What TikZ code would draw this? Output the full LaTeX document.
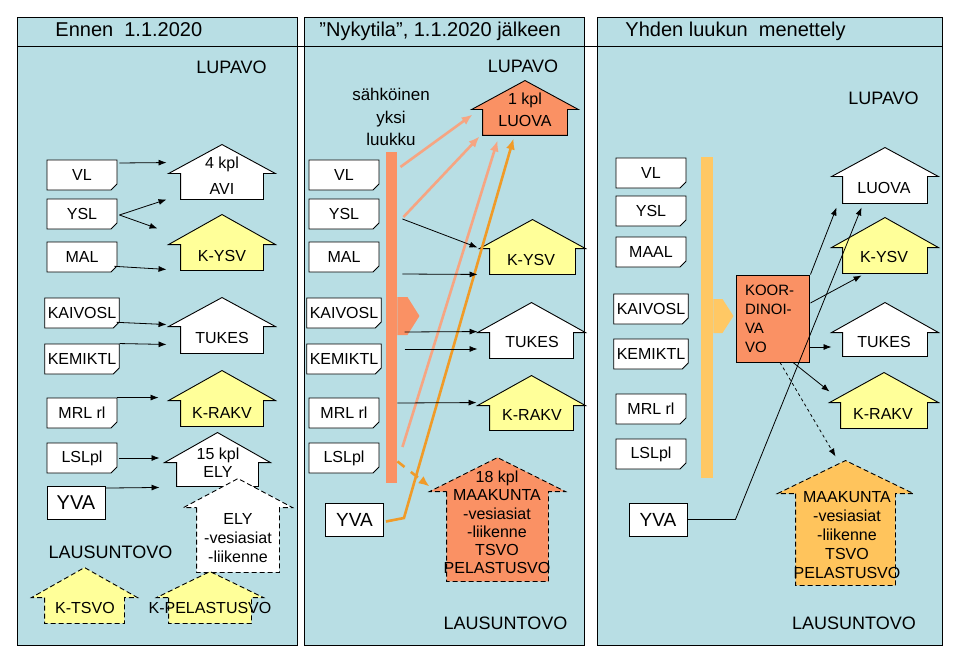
\documentclass[tikz,border=0pt]{standalone}
\usepackage{fontspec}
\setmainfont{Liberation Sans}
\usetikzlibrary{arrows.meta,shapes.misc,fit}

\definecolor{tausta}{RGB}{184,222,228}
\definecolor{keltainen}{RGB}{255,255,153}
\definecolor{lohi}{RGB}{250,145,100}
\definecolor{oranssi}{RGB}{255,196,92}
\definecolor{vaalealohi}{RGB}{246,165,130}
\definecolor{tummaoranssi}{RGB}{240,155,40}
\definecolor{palkkioranssi}{RGB}{255,200,100}

% talo: [tyyli]{nimi}{vasen raystas}{oikea alakulma}{raystaan leveys}{katon korkeus}
\newcommand{\talo}[6][fill=white]{%
        \node[talo, fit={(#3) (#4)}] (#2) {};
        \filldraw[#1] ([xshift=#5]#2.north west) -- ([xshift=#5]#2.south west)
                -- ([xshift=-#5]#2.south east) -- ([xshift=-#5]#2.north east)
                -- (#2.north east) -- ([yshift=#6]#2.north) -- (#2.north west) -- cycle;
}

\tikzset{
        paneeli/.style={draw, fill=tausta},
        dok/.style={draw, fill=white, chamfered rectangle, chamfered rectangle corners=south east,
                chamfered rectangle xsep=3pt, chamfered rectangle ysep=3pt,
                minimum width=70, minimum height=30, inner sep=0pt, font=\fontsize{16}{19}\selectfont},
        yvalaatikko/.style={draw, fill=white, minimum width=58, minimum height=33, inner sep=0pt,
                font=\fontsize{19}{23}\selectfont},
        talo/.style={inner sep=0pt},
        katko/.style={dash pattern=on 5pt off 3pt},
        teksti/.style={align=center, inner sep=0pt, font=\fontsize{16}{19}\selectfont},
        iso/.style={inner sep=0pt, font=\fontsize{18}{22}\selectfont},
        otsikko/.style={anchor=base west, inner sep=0pt, font=\fontsize{20}{24}\selectfont},
        palkki/.style={inner sep=0pt, minimum width=11},
        nuoli/.style={-{Latex[length=8pt,width=6pt]}, line width=0.8pt},
        paksu/.style={-{Latex[length=11pt,width=9pt]}, line width=2.6pt, draw=vaalealohi},
}

\begin{document}
\begin{tikzpicture}[x=1pt, y=-1pt, line width=0.9pt]
        \useasboundingbox (0,0) rectangle (960,655);
        \draw[paneeli] (17,17) rectangle (297,645);
        \draw[paneeli] (304,17) rectangle (584,645);
        \draw[paneeli] (597,17) rectangle (942,645);
        \draw (17,46) -- (942,46);

        \node[otsikko] (otsikko1) at (55,37) {Ennen\ \ 1.1.2020};
        \node[otsikko] (otsikko2) at (319,37) {”Nykytila”, 1.1.2020 jälkeen};
        \node[otsikko] (otsikko3) at (625,37) {Yhden luukun\ \ menettely};

        \node[iso] (lupavo1) at (231.5,67) {LUPAVO};
        \node[iso] (lupavo2) at (523,66) {LUPAVO};
        \node[iso] (lupavo3) at (883.5,98) {LUPAVO};
        \node[iso] (lausunto1) at (110.5,552) {LAUSUNTOVO};
        \node[iso] (lausunto2) at (505.5,623) {LAUSUNTOVO};
        \node[iso] (lausunto3) at (854,623) {LAUSUNTOVO};

        % lait
        \foreach \n/\t/\y in {vl/VL/175, ysl/YSL/214, mal/MAL/257, kaivosl/KAIVOSL/313,
                        kemiktl/KEMIKTL/359, mrl/MRL rl/413, lsl/LSLpl/458} {
                \node[dok] (\n1) at (82,\y) {\t};
                \node[dok] (\n2) at (344,\y) {\t};
        }
        \foreach \n/\t/\y in {vl/VL/173, ysl/YSL/211, mal/MAAL/252, kaivosl/KAIVOSL/309,
                        kemiktl/KEMIKTL/354, mrl/MRL rl/409, lsl/LSLpl/454} {
                \node[dok] (\n3) at (651,\y) {\t};
        }
        \node[yvalaatikko, font=\fontsize{20}{24}\selectfont] (yva1) at (76,503) {YVA};
        \node[yvalaatikko] (yva2) at (354.5,519.5) {YVA};
        \node[yvalaatikko] (yva3) at (658,519.5) {YVA};

        % ennen
        \talo{avi}{169,174}{275,199}{12}{29}
        \node[teksti] (avi-t) at (222,176) {4 kpl\\[7pt]AVI};
        \talo[fill=keltainen]{kysv1}{169,245}{275,270}{12}{30}
        \node[teksti] (kysv1-t) at (222,256) {K-YSV};
        \talo{tukes1}{169,327}{275,353}{12}{29}
        \node[teksti] (tukes1-t) at (222,338) {TUKES};
        \talo[fill=keltainen]{krakv1}{169,401}{275,426}{12}{30}
        \node[teksti] (krakv1-t) at (222,413) {K-RAKV};
        \talo{ely1}{165,463}{270,486}{12}{30}
        \node[teksti, font=\fontsize{16}{18}\selectfont] (ely1-t) at (218,463) {15 kpl\\ELY};
        \talo[fill=white,katko]{ely2}{184,508}{292,572}{13}{29}
        \node[teksti] (ely2-t) at (238,538) {ELY\\-vesiasiat\\-liikenne};
        \talo[fill=keltainen,katko]{ktsvo}{32,598}{137,623}{13}{30}
        \node[teksti] (ktsvo-t) at (85,608) {K-TSVO};
        \talo[fill=keltainen,katko]{kpel}{157,598}{263,623}{12}{26}
        \node[teksti] (kpel-t) at (210,608) {K-PELASTUSVO};

        \draw[nuoli] ([shift={(2,-12)}]vl1.east) -- ([shift={(-2,-11)}]avi.north west);
        \draw[nuoli] ([shift={(2,1)}]ysl1.east) -- ([xshift=-2]avi.south west);
        \draw[nuoli] ([shift={(2,1)}]ysl1.east) -- ([shift={(-11,-16)}]kysv1.north west);
        \draw[nuoli] ([yshift=3]mal1.south east) -- ([shift={(-2,-1)}]kysv1.south west);
        \draw[nuoli] ([yshift=3]kaivosl1.south east) -- ([shift={(-2,-2)}]tukes1.north west);
        \draw[nuoli] (kemiktl1.north east) -- ([shift={(-2,-9)}]tukes1.south west);
        \draw[nuoli] (mrl1.north east) -- ([shift={(-10,-3)}]krakv1.north west);
        \draw[nuoli] ([xshift=2]lsl1.east) -- ([shift={(-5,-16.5)}]ely1.west);
        \draw[nuoli] ([yshift=-2]yva1.north east) -- ([shift={(-5,1)}]ely1.south west);

        % nykytila
        \node[teksti, font=\fontsize{17}{22.5}\selectfont] (luukku) at (391,117) {sähköinen\\yksi\\luukku};
        \node[palkki, fill=lohi, minimum height=331] (palkki2) at (391.5,317.5) {};
        \fill[lohi] ([yshift=20.5]palkki2.east) -- ++(10,0) -- ++(12,19) -- ++(-12,19) -- ++(-10,0) -- cycle;

        \talo[fill=lohi]{luova2}{472,110}{578,135}{11}{29}
        \node[teksti] (luova2-t) at (525,110) {1 kpl\\[3pt]LUOVA};
        \talo[fill=keltainen]{kysv2}{480,249}{585,274}{10}{29}
        \node[teksti] (kysv2-t) at (531,260) {K-YSV};
        \talo{tukes2}{478,333}{585,358}{12}{30}
        \node[teksti] (tukes2-t) at (532,342) {TUKES};
        \talo[fill=keltainen]{krakv2}{478,406}{585,430}{12}{30}
        \node[teksti] (krakv2-t) at (532,415) {K-RAKV};
        \talo[fill=lohi,katko]{maak2}{430,492}{565,581}{17}{34}
        \node[teksti, font=\fontsize{16}{18.2}\selectfont] (maak2-t) at (497,522.5)
                {18 kpl\\MAAKUNTA\\-vesiasiat\\-liikenne\\TSVO\\PELASTUSVO};

        \draw[paksu] ([shift={(21,-8)}]vl2.east) -- ([shift={(1,5)}]luova2.north west);
        \draw[paksu] ([shift={(24,3)}]ysl2.east) -- ([shift={(8,1)}]luova2.south west);
        \draw[paksu] ([shift={(23,-11)}]lsl2.east) -- ([shift={(26,5)}]luova2.south west);
        \draw[paksu, draw=tummaoranssi] ([shift={(2,2)}]yva2.east) -- ++(18,-3.5)
                -- ([shift={(42,3)}]luova2.south west);
        \draw[paksu, draw=tummaoranssi, dash pattern=on 9pt off 8pt]
                ([yshift=22]palkki2.south east) -- ([yshift=5]maak2.north west);

        \draw[nuoli] ([shift={(23,5)}]ysl2.east) -- ([shift={(-2,-1)}]kysv2.north west);
        \draw[nuoli] ([shift={(23,17)}]mal2.east) -- ([xshift=-2]kysv2.south west);
        \draw[nuoli] ([shift={(23,19)}]kaivosl2.east) -- ([yshift=1]tukes2.north west);
        \draw[nuoli] ([shift={(23,-10)}]kemiktl2.east) -- ([yshift=-3.5]tukes2.west);
        \draw[nuoli] ([shift={(18,-10)}]mrl2.east) -- ([shift={(-1,-3)}]krakv2.north west);

        % yhden luukun menettely
        \node[palkki, fill=palkkioranssi, minimum width=12, minimum height=321] (palkki3) at (707,317.5) {};
        \fill[palkkioranssi] ([yshift=18.5]palkki3.east) -- ++(9,0) -- ++(11,17) -- ++(-11,17) -- ++(-9,0) -- cycle;
        \node[draw, fill=lohi, minimum height=87, text width=55, inner xsep=9, inner ysep=0pt,
                align=left, font=\fontsize{15}{19}\selectfont] (koor) at (772.5,318.5) {KOOR-\\DINOI-\\VA\\VO};

        \talo{luova3}{832,177}{938,203}{11}{29}
        \node[teksti] (luova3-t) at (884,188) {LUOVA};
        \talo[fill=keltainen]{kysv3}{832,248}{938,273}{11}{30}
        \node[teksti] (kysv3-t) at (884,257) {K-YSV};
        \talo{tukes3}{832,333}{938,356}{11}{30}
        \node[teksti] (tukes3-t) at (884,342) {TUKES};
        \talo[fill=keltainen]{krakv3}{830,403}{938,428}{11}{30}
        \node[teksti] (krakv3-t) at (883,414) {K-RAKV};
        \talo[fill=oranssi,katko]{maak3}{778,494}{913,585}{18}{33}
        \node[teksti] (maak3-t) at (847,535) {MAAKUNTA\\-vesiasiat\\-liikenne\\TSVO\\PELASTUSVO};

        \draw[nuoli] ([xshift=1]koor.north east) -- ([shift={(5,4)}]luova3.south west);
        \draw[nuoli] (yva3.east) -- ++(48,0) -- ([shift={(30,4)}]luova3.south west);
        \draw[nuoli] ([shift={(1,-15.5)}]koor.east) -- ([shift={(30,2)}]kysv3.south west);
        \draw[nuoli] ([yshift=-28.5]koor.east) -- ([yshift=-2.5]tukes3.west);
        \draw[nuoli] ([xshift=20.5]koor.south) -- ([yshift=11]krakv3.north west);
        \draw[nuoli, dashed] ([xshift=7.5]koor.south) -- ([shift={(58,-37)}]maak3.north west);
\end{tikzpicture}
\end{document}
